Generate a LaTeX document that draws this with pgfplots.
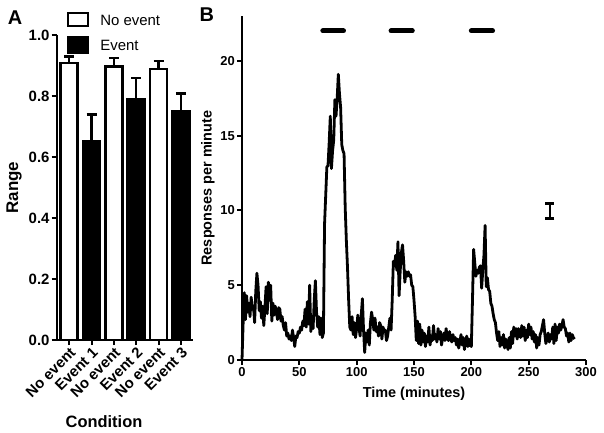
\documentclass[border=0pt]{standalone}
\usepackage{pgfplots}
\usepackage{pgfplotstable}
\pgfplotsset{compat=1.18}
\usepackage{fontspec}
\setmainfont{Liberation Sans}

\pgfplotstableread{
t r
0 0.0
1 2.5
2 4.5
3 2.7
4 4.3
5 3.2
6 3.8
7 2.9
8 4.2
9 3.4
10 3.6
11 2.5
12 4.6
13 5.8
14 5.0
15 3.3
16 3.9
17 2.8
18 3.6
19 2.3
20 3.5
21 4.9
22 3.1
23 5.2
24 4.0
25 5.0
26 2.6
27 3.8
28 3.0
29 3.6
30 3.2
31 2.7
32 3.5
33 3.4
34 2.6
35 2.9
36 2.3
37 2.0
38 2.5
39 1.6
40 1.8
41 1.4
42 1.6
43 1.3
44 2.0
45 1.5
46 0.9
47 1.6
48 1.5
49 1.9
50 1.8
51 2.2
52 2.0
53 2.6
54 2.3
55 3.4
56 2.2
57 3.9
58 2.4
59 5.0
60 1.9
61 2.6
62 2.1
63 4.0
64 5.3
65 3.2
66 2.2
67 2.9
68 1.7
69 2.8
70 1.5
71 1.8
72 9.1
73 11.0
74 12.9
75 13.0
76 14.5
77 16.3
78 12.8
79 14.0
80 14.7
81 17.4
82 16.3
83 17.5
84 19.1
85 17.8
86 16.9
87 14.4
88 14.0
89 13.8
90 10.2
91 8.0
92 6.2
93 4.0
94 2.2
95 2.0
96 2.9
97 1.7
98 2.5
99 1.5
100 2.1
101 3.0
102 2.2
103 1.6
104 3.0
105 4.1
106 2.0
107 0.5
108 1.8
109 1.2
110 2.0
111 1.0
112 2.5
113 3.2
114 2.7
115 2.0
116 2.8
117 1.9
118 2.2
119 1.6
120 2.5
121 2.3
122 1.4
123 2.2
124 1.9
125 2.0
126 1.3
127 1.6
128 2.2
129 2.8
130 2.0
131 4.0
132 6.6
133 6.3
134 7.0
135 6.0
136 7.9
137 4.3
138 6.0
139 7.2
140 7.7
141 6.6
142 5.2
143 5.9
144 5.6
145 5.9
146 5.6
147 5.7
148 5.0
149 4.9
150 4.0
151 2.9
152 1.3
153 2.6
154 1.1
155 2.4
156 1.0
157 2.0
158 1.2
159 1.8
160 0.9
161 1.6
162 1.2
163 2.2
164 1.0
165 1.6
166 1.3
167 2.3
168 1.4
169 1.7
170 1.2
171 2.1
172 1.4
173 1.9
174 1.0
175 1.5
176 1.8
177 1.3
178 2.1
179 1.5
180 1.3
181 1.9
182 1.4
183 1.2
184 1.7
185 1.3
186 1.5
187 1.0
188 1.4
189 0.8
190 1.2
191 1.7
192 1.0
193 1.5
194 0.7
195 1.2
196 1.6
197 0.9
198 1.4
199 1.0
200 0.9
201 4.0
202 7.4
203 6.5
204 5.6
205 6.0
206 5.8
207 6.2
208 6.3
209 4.8
210 6.0
211 7.0
212 9.0
213 4.9
214 5.5
215 4.7
216 4.6
217 3.8
218 3.6
219 3.1
220 2.7
221 2.5
222 1.8
223 1.3
224 1.9
225 0.9
226 1.5
227 1.0
228 1.7
229 0.8
230 1.4
231 1.1
232 0.7
233 1.5
234 0.8
235 1.9
236 1.1
237 2.2
238 1.6
239 2.1
240 1.4
241 2.1
242 1.8
243 1.5
244 2.3
245 1.6
246 2.2
247 1.3
248 2.0
249 1.5
250 2.4
251 1.7
252 2.2
253 1.4
254 1.9
255 1.2
256 1.7
257 0.8
258 1.5
259 1.0
260 1.7
261 1.9
262 2.3
263 2.7
264 1.8
265 1.1
266 1.5
267 1.8
268 1.2
269 1.7
270 1.4
271 2.2
272 1.1
273 2.4
274 1.3
275 2.2
276 1.8
277 2.4
278 2.0
279 2.3
280 2.7
281 2.2
282 2.1
283 1.6
284 1.8
285 1.2
286 1.8
287 1.3
288 1.7
289 1.5
290 1.4
}\responses

\begin{document}
\begin{tikzpicture}
\path (0bp,0bp) rectangle (604bp,433bp);

% ---------------- Panel A ----------------
\begin{axis}[
  at={(56.7bp,93bp)}, anchor=south west,
  scale only axis, width=136.3bp, height=305bp,
  xmin=-0.56, xmax=5.54, ymin=0, ymax=1,
  axis x line=bottom, axis y line=left,
  axis line style={-, line width=2bp, black},
  xtick={0,1,2,3,4,5},
  xticklabels={No event, Event 1, No event, Event 2, No event, Event 3},
  ytick={0,0.2,0.4,0.6,0.8,1},
  /pgf/number format/fixed,
  /pgf/number format/fixed zerofill,
  /pgf/number format/precision=1,
  /pgf/number format/assume math mode=true,
  tick align=outside, major tick length=5bp,
  tick style={line width=2bp, black},
  yticklabel style={font=\bfseries\fontsize{15}{15}\selectfont, inner sep=2bp},
  xticklabel style={font=\bfseries\fontsize{15}{15}\selectfont, rotate=45, anchor=north east, inner sep=1bp},
  clip=false,
  legend style={at={(axis description cs:0.073,1.077)}, anchor=north west,
    draw=none, fill=none, inner sep=0pt, row sep=9bp,
    font=\fontsize{15}{15}\selectfont,
    nodes={inner sep=1bp, text depth=0pt},
    /tikz/every odd column/.style={column sep=10bp}},
  legend cell align=left,
]
\addplot[ybar, bar width=17bp, bar shift=0pt, draw=black, fill=white, line width=2.7bp,
  legend image code/.code={\draw[line width=2.5bp, fill=white, draw=black] (0bp,-6bp) rectangle (20bp,7bp);},
  error bars/.cd, y dir=plus, y explicit, error mark=|,
  error bar style={line width=2.5bp, black},
  error mark options={line width=2.5bp, mark size=5bp, black}]
coordinates {(0,0.908) +- (0,0.021) (2,0.896) +- (0,0.028) (4,0.889) +- (0,0.026)};
\addlegendentry{No event}
\addplot[ybar, bar width=17bp, bar shift=0pt, draw=black, fill=black, line width=2.7bp,
  legend image code/.code={\draw[line width=2bp, fill=black, draw=black] (0bp,-8bp) rectangle (20bp,8bp);},
  error bars/.cd, y dir=plus, y explicit, error mark=|,
  error bar style={line width=2.5bp, black},
  error mark options={line width=2.5bp, mark size=5bp, black}]
coordinates {(1,0.65) +- (0,0.089) (3,0.79) +- (0,0.069) (5,0.75) +- (0,0.058)};
\addlegendentry{Event}
\node[font=\bfseries\fontsize{20}{20}\selectfont] at (axis description cs:-0.306,1.056) {A};
\node[font=\bfseries\fontsize{17}{17}\selectfont, rotate=90] at (axis description cs:-0.313,0.5) {Range};
\node[font=\bfseries\fontsize{16.5}{16.5}\selectfont] at (axis description cs:0.347,-0.266) {Condition};
\end{axis}

% ---------------- Panel B ----------------
\begin{axis}[
  at={(242bp,73bp)}, anchor=south west,
  scale only axis, width=344bp, height=344bp,
  xmin=0, xmax=300, ymin=0, ymax=23,
  axis x line=bottom, axis y line=left,
  axis line style={-, line width=2bp, black},
  xtick={0,50,100,150,200,250,300},
  ytick={0,5,10,15,20},
  /pgf/number format/assume math mode=true,
  tick align=outside, major tick length=5bp,
  tick style={line width=2bp, black},
  ticklabel style={font=\bfseries\fontsize{13}{13}\selectfont, inner sep=2bp},
  clip=false,
]
\addplot[black, line width=2.8bp, line join=round] table[x=t, y=r] {\responses};
\addplot[black, line width=5bp, line cap=round] coordinates {(70.5,22) (88.5,22)};
\addplot[black, line width=5bp, line cap=round] coordinates {(130,22) (148.5,22)};
\addplot[black, line width=5bp, line cap=round] coordinates {(200,22) (218.5,22)};
\addplot[black, mark=none,
  error bars/.cd, y dir=both, y explicit, error mark=|,
  error bar style={line width=2.5bp, black},
  error mark options={line width=2.5bp, mark size=4.5bp, black}]
coordinates {(268.5,9.95) +- (0,0.5)};
\node[font=\bfseries\fontsize{20}{20}\selectfont] at (axis description cs:-0.102,1.003) {B};
\node[font=\bfseries\fontsize{14.5}{14.5}\selectfont, rotate=90] at (axis description cs:-0.099,0.5) {Responses per minute};
\node[font=\bfseries\fontsize{14.5}{14.5}\selectfont] at (axis description cs:0.5,-0.099) {Time (minutes)};
\end{axis}
\end{tikzpicture}
\end{document}
